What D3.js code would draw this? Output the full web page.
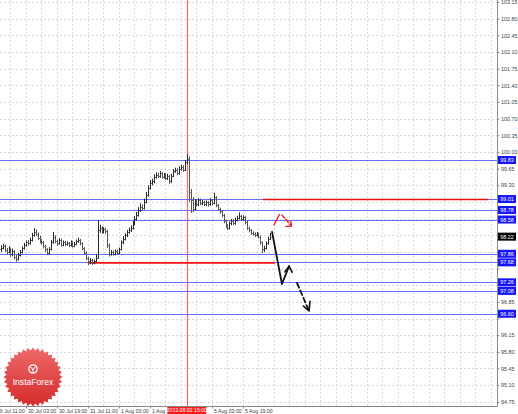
<!DOCTYPE html>
<html>
<head>
<meta charset="utf-8">
<script src="https://cdn.jsdelivr.net/npm/d3@7"></script>
<style>
  body { margin: 0; background: #fff; }
  svg { display: block; }
  text { font-family: "Liberation Sans", Arial, sans-serif; }
</style>
</head>
<body>
<div id="chart"></div>
<script>
// H1 bars, 29 Jul 14:00 .. 6 Aug 09:00 (open = previous close)
var firstOpen = 97.95;
var closes = [97.98, 98.03, 97.94, 97.90, 97.96, 97.85, 97.92, 97.80, 97.75, 97.83,
  97.90, 97.98, 98.05, 98.10, 98.08, 98.15, 98.25, 98.32, 98.28, 98.20,
  98.12, 98.10, 98.02, 97.95, 97.88, 97.95, 98.10, 98.22, 98.12, 98.08,
  98.15, 98.05, 98.10, 98.06, 98.08, 98.04, 98.10, 98.02, 98.07, 98.12,
  98.15, 98.08, 97.98, 97.88, 97.78, 97.70, 97.72, 97.66, 97.70, 97.78,
  98.35, 98.40, 98.32, 98.38, 98.33, 98.05, 97.85, 97.90, 97.86, 97.92,
  97.88, 97.95, 98.10, 98.18, 98.25, 98.32, 98.36, 98.40, 98.50, 98.60,
  98.68, 98.78, 98.85, 98.82, 98.95, 99.10, 99.25, 99.35, 99.38, 99.48,
  99.52, 99.50, 99.55, 99.48, 99.52, 99.45, 99.50, 99.38, 99.50, 99.60,
  99.62, 99.55, 99.65, 99.68, 99.62, 99.78, 99.85, 99.15, 99.00, 98.80,
  98.95, 98.90, 98.98, 98.92, 98.95, 98.90, 98.94, 98.90, 98.98, 98.92,
  99.05, 98.88, 98.80, 98.75, 98.68, 98.55, 98.45, 98.40, 98.50, 98.55,
  98.50, 98.58, 98.62, 98.65, 98.60, 98.63, 98.52, 98.40, 98.35, 98.30,
  98.28, 98.25, 98.28, 98.22, 98.10, 97.95, 97.98, 98.08, 98.18, 98.22];
var highs = [98.04, 98.07, 98.05, 97.98, 98.02, 97.99, 97.97, 97.94, 97.84, 97.88,
  97.94, 98.02, 98.09, 98.14, 98.15, 98.20, 98.30, 98.40, 98.37, 98.31,
  98.24, 98.17, 98.13, 98.05, 97.98, 98.00, 98.15, 98.32, 98.25, 98.16,
  98.19, 98.18, 98.14, 98.13, 98.12, 98.11, 98.14, 98.12, 98.11, 98.16,
  98.20, 98.17, 98.10, 98.00, 97.91, 97.80, 97.77, 97.75, 97.74, 97.85,
  98.57, 98.47, 98.44, 98.42, 98.41, 98.36, 98.08, 97.94, 97.93, 97.95,
  97.95, 97.99, 98.14, 98.23, 98.29, 98.36, 98.41, 98.46, 98.55, 98.65,
  98.74, 98.84, 98.92, 98.90, 99.02, 99.16, 99.30, 99.41, 99.44, 99.53,
  99.57, 99.56, 99.60, 99.58, 99.56, 99.55, 99.54, 99.52, 99.54, 99.64,
  99.67, 99.66, 99.70, 99.73, 99.72, 99.83, 99.95, 99.90, 99.22, 99.05,
  99.01, 99.00, 99.03, 99.02, 98.99, 98.98, 98.98, 98.97, 99.03, 99.01,
  99.14, 99.07, 98.91, 98.83, 98.78, 98.70, 98.58, 98.48, 98.54, 98.59,
  98.58, 98.62, 98.66, 98.73, 98.68, 98.67, 98.65, 98.55, 98.43, 98.38,
  98.33, 98.31, 98.32, 98.30, 98.24, 98.12, 98.03, 98.12, 98.22, 98.30];
var lows = [97.90, 97.95, 97.90, 97.84, 97.87, 97.80, 97.81, 97.74, 97.69, 97.72,
  97.80, 97.87, 97.95, 98.01, 98.03, 98.05, 98.12, 98.22, 98.23, 98.15,
  98.08, 98.05, 97.97, 97.90, 97.83, 97.85, 97.93, 98.07, 98.08, 98.03,
  98.05, 98.01, 98.02, 98.02, 98.03, 98.00, 98.01, 97.99, 98.00, 98.04,
  98.09, 98.04, 97.94, 97.84, 97.73, 97.62, 97.64, 97.63, 97.64, 97.68,
  97.76, 98.30, 98.28, 98.29, 98.28, 97.98, 97.80, 97.82, 97.82, 97.83,
  97.84, 97.85, 97.93, 98.06, 98.14, 98.21, 98.28, 98.32, 98.37, 98.46,
  98.56, 98.64, 98.74, 98.77, 98.79, 98.92, 99.06, 99.21, 99.30, 99.34,
  99.44, 99.45, 99.46, 99.44, 99.44, 99.41, 99.41, 99.33, 99.35, 99.47,
  99.56, 99.51, 99.52, 99.61, 99.58, 99.60, 99.74, 98.95, 98.72, 98.74,
  98.77, 98.85, 98.86, 98.88, 98.88, 98.86, 98.86, 98.85, 98.87, 98.88,
  98.90, 98.84, 98.76, 98.70, 98.63, 98.50, 98.40, 98.36, 98.37, 98.46,
  98.46, 98.47, 98.54, 98.58, 98.55, 98.56, 98.48, 98.36, 98.31, 98.26,
  98.24, 98.21, 98.22, 98.18, 98.05, 97.88, 97.90, 97.95, 98.05, 98.15];

var priceTicks = [94.75, 95.10, 95.45, 95.80, 96.15, 96.50, 96.85, 97.20, 97.55, 97.90,
  98.25, 98.60, 98.95, 99.30, 99.65, 100.00, 100.35, 100.70, 101.05, 101.40,
  101.75, 102.10, 102.45, 102.80, 103.15];
var timeTickBars = [-3, 13, 29, 45, 61, 77, 93, 109, 125];
var timeTickLabels = ["29 Jul 11:00", "30 Jul 03:00", "30 Jul 19:00", "31 Jul 11:00",
  "1 Aug 03:00", "1 Aug 19:00", "2 Aug 11:00", "5 Aug 03:00", "5 Aug 19:00"];
var gridBarStep = 8;

var levels = [99.83, 99.01, 98.78, 98.58, 97.86, 97.68, 97.26, 97.08, 96.60];
var lastPrice = 98.22;
var markerBar = 96, markerLabel = "2013.08.02 15:00";
// red trend segments: [barFrom, barTo, price]
var redSegments = [[45, 141.5, 97.68], [135.3, 251.5, 99.01]];
// forecast arrows in [bar, price]
var redArrow = [[141, 98.465], [143.8, 98.685]];
var redArrow2 = [[145.1, 98.675], [150, 98.445]];
var redHead = [[147.2, 98.435], [150, 98.445], [149.7, 98.55]];
var blackPath = [[140, 98.32], [145.1, 97.225], [148.8, 97.60]];
var blackHead1 = [[146.6, 97.48], [148.8, 97.60], [150.4, 97.47]];
var blackDash = [[152.9, 97.245], [159.1, 96.66]];
var blackHead2 = [[156.2, 96.76], [159.1, 96.66], [159.6, 96.86]];

var W = 518, H = 414;
var plotR = 497, plotB = 406;

var svg = d3.select("#chart").append("svg")
  .attr("width", W).attr("height", H);

var x = d3.scaleLinear().domain([0, 256]).range([0.8, 496.8]);
var y = d3.scaleLinear().domain([94.75, 103.15]).range([401.8, 2]);

var defs = svg.append("defs");
defs.append("clipPath").attr("id", "plotclip")
  .append("rect").attr("x", 0).attr("y", 0).attr("width", plotR).attr("height", plotB);

var plot = svg.append("g").attr("clip-path", "url(#plotclip)");

// ======== grid ========
var gridBars = d3.range(timeTickBars[0], 257, gridBarStep);
plot.selectAll(".vgrid").data(gridBars).enter().append("line")
  .attr("x1", d => Math.round(x(d)) + 0.5).attr("x2", d => Math.round(x(d)) + 0.5)
  .attr("y1", 0).attr("y2", plotB)
  .attr("stroke", "#dadada").attr("stroke-dasharray", "2,2");
plot.selectAll(".hgrid").data(priceTicks).enter().append("line")
  .attr("x1", 0).attr("x2", plotR)
  .attr("y1", d => Math.round(y(d)) + 0.5).attr("y2", d => Math.round(y(d)) + 0.5)
  .attr("stroke", "#dadada").attr("stroke-dasharray", "2,2");

// ======== vertical marker ========
plot.append("line")
  .attr("x1", Math.round(x(markerBar)) + 0.5).attr("x2", Math.round(x(markerBar)) + 0.5)
  .attr("y1", 0).attr("y2", plotB)
  .attr("stroke", "#ff3030").attr("stroke-opacity", 0.75).attr("stroke-width", 1.2);

// ======== levels ========
plot.selectAll(".lvl").data(levels).enter().append("line")
  .attr("x1", 0).attr("x2", plotR)
  .attr("y1", d => Math.round(y(d)) + 0.5).attr("y2", d => Math.round(y(d)) + 0.5)
  .attr("stroke", "#6a6aff").attr("stroke-width", 1);

plot.selectAll(".redseg").data(redSegments).enter().append("line")
  .attr("x1", d => x(d[0])).attr("x2", d => x(d[1]))
  .attr("y1", d => y(d[2]) + 0.5).attr("y2", d => y(d[2]) + 0.5)
  .attr("stroke", "#f01010").attr("stroke-width", 1.6);

// ======== OHLC bars ========
var bars = closes.map(function (c, i) {
  return { i: i, o: i === 0 ? firstOpen : closes[i - 1], h: highs[i], l: lows[i], c: c };
});
var bg = plot.append("g");
bars.forEach(function (d) {
  var cx = Math.round(x(d.i)) + 0.5;
  var col = d.c >= d.o ? "#2a2a2a" : "#555";
  bg.append("line").attr("x1", cx).attr("x2", cx)
    .attr("y1", y(d.h)).attr("y2", y(d.l)).attr("stroke", col).attr("stroke-width", 1);
  bg.append("line").attr("x1", cx - 1).attr("x2", cx)
    .attr("y1", Math.round(y(d.o)) + 0.5).attr("y2", Math.round(y(d.o)) + 0.5)
    .attr("stroke", col).attr("stroke-width", 1);
  bg.append("line").attr("x1", cx).attr("x2", cx + 1)
    .attr("y1", Math.round(y(d.c)) + 0.5).attr("y2", Math.round(y(d.c)) + 0.5)
    .attr("stroke", col).attr("stroke-width", 1);
});

// ======== forecast arrows ========
var line = d3.line().x(d => x(d[0])).y(d => y(d[1]));
function drawPath(pts, color, w, dash) {
  plot.append("path").attr("d", line(pts)).attr("fill", "none")
    .attr("stroke", color).attr("stroke-width", w)
    .attr("stroke-linecap", "round").attr("stroke-linejoin", "round")
    .attr("stroke-dasharray", dash || null);
}
drawPath(redArrow, "#f02020", 1.4);
drawPath(redArrow2, "#f02020", 1.4, "4,2");
drawPath(redHead, "#f02020", 1.4);
drawPath(blackPath, "#111", 1.8);
drawPath(blackHead1, "#111", 1.6);
drawPath(blackDash, "#111", 1.8, "5,3");
drawPath(blackHead2, "#111", 1.6);

// ======== logo ========
var logo = svg.append("g").attr("transform", "translate(33,377)");
var grad = defs.append("linearGradient").attr("id", "seal")
  .attr("x1", 0).attr("y1", 0).attr("x2", 0).attr("y2", 1);
grad.append("stop").attr("offset", "0%").attr("stop-color", "#ef6a6a");
grad.append("stop").attr("offset", "100%").attr("stop-color", "#d42a2a");
var teeth = 36, pts = [];
for (var k = 0; k < teeth * 2; k++) {
  var a = k * Math.PI / teeth, r = k % 2 ? 26.5 : 29.5;
  pts.push([Math.cos(a) * r, Math.sin(a) * r]);
}
logo.append("path").attr("d", "M" + pts.join("L") + "Z").attr("fill", "url(#seal)");
logo.append("circle").attr("cx", 0).attr("cy", -8).attr("r", 4.2)
  .attr("fill", "none").attr("stroke", "#fff").attr("stroke-width", 1.2);
logo.append("path").attr("d", "M-2,-10 L0,-7 L2,-10 M0,-7 L0,-4").attr("stroke", "#fff")
  .attr("stroke-width", 1).attr("fill", "none");
logo.append("text").attr("x", 0).attr("y", 8).attr("text-anchor", "middle")
  .attr("font-size", "8.6px").attr("fill", "#fff").text("InstaForex");

// ======== axes ========
var axisCol = "#8a8a8a";
svg.append("line").attr("x1", plotR + 0.5).attr("x2", plotR + 0.5).attr("y1", 0).attr("y2", plotB + 0.5)
  .attr("stroke", axisCol);
svg.append("line").attr("x1", 0).attr("x2", plotR + 0.5).attr("y1", plotB + 0.5).attr("y2", plotB + 0.5)
  .attr("stroke", axisCol);

var boxPrices = levels.concat([lastPrice]);
var yAxis = d3.axisRight(y).tickValues(priceTicks).tickSize(2).tickFormat(d3.format(".2f"));
var gy = svg.append("g").attr("transform", "translate(" + (plotR + 0.5) + ",0)").call(yAxis);
gy.select(".domain").remove();
gy.selectAll("line").attr("stroke", axisCol);
// labels sitting under a price box are covered by it
gy.selectAll("text").attr("x", 3.5).attr("font-size", "5.4px").attr("fill", "#444")
  .style("display", d => boxPrices.some(p => Math.abs(y(p) - y(d)) < 6.5) ? "none" : null);

// marker label box; time labels it covers are cut back to their visible part
var boxW = 39, boxX = x(markerBar) - boxW / 2;
var xAxis = d3.axisBottom(x).tickValues(timeTickBars).tickSize(2)
  .tickFormat((d, i) => timeTickLabels[i]);
var gx = svg.append("g").attr("transform", "translate(0," + (plotB + 0.5) + ")").call(xAxis);
gx.select(".domain").remove();
gx.selectAll("line").attr("stroke", axisCol);
gx.selectAll("text").attr("text-anchor", "start").attr("dx", "1.5").attr("y", 3)
  .attr("font-size", "5.2px").attr("fill", "#444")
  .style("display", d => (x(d) > boxX && x(d) < boxX + boxW) ? "none" : null)
  .each(function (d) {
    var t = d3.select(this), s = t.text();
    while (s.length > 1 && x(d) < boxX && x(d) + 1.5 + this.getComputedTextLength() > boxX - 0.5) {
      s = s.slice(0, -1); t.text(s);
    }
  });

// ======== price boxes ========
var boxes = levels.map(v => ({ v: v, fill: "#1414ff" })).concat([{ v: lastPrice, fill: "#000" }]);
var pb = svg.selectAll(".pbox").data(boxes).enter().append("g")
  .attr("transform", d => "translate(" + (plotR + 1) + "," + (y(d.v) - 4) + ")");
pb.append("rect").attr("width", 18).attr("height", 8).attr("fill", d => d.fill);
pb.append("text").attr("x", 9).attr("y", 6).attr("text-anchor", "middle")
  .attr("font-size", "5.4px").attr("fill", "#fff").text(d => d3.format(".2f")(d.v));

// time marker box
var tb = svg.append("g").attr("transform", "translate(" + boxX + "," + (plotB + 1) + ")");
tb.append("rect").attr("width", boxW).attr("height", 7).attr("fill", "#ff1a1a");
tb.append("text").attr("x", boxW / 2).attr("y", 5.4).attr("text-anchor", "middle")
  .attr("font-size", "5.2px").attr("fill", "#fff").text(markerLabel);
</script>
</body>
</html>
